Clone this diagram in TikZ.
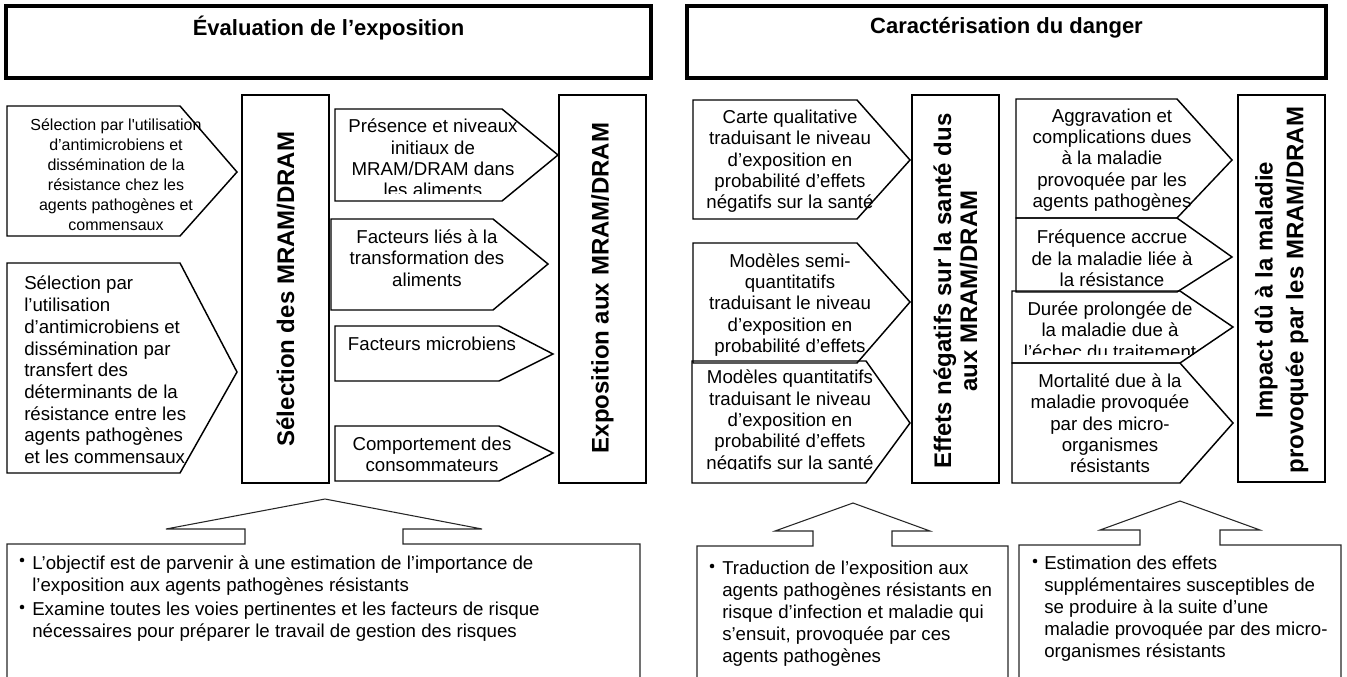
\documentclass[tikz,border=0pt]{standalone}
\usepackage{fontspec}
\setmainfont{Liberation Sans}
\newcommand\pent[6]{\draw[pent] (#1,#2) -- (#3,#2) -- (#4,#6) -- (#3,#5) -- (#1,#5) -- cycle;}
\begin{document}
\begin{tikzpicture}[x=0.75pt,y=-0.75pt,
  pent/.style={draw=black,line width=1.1pt,line join=miter},
  vbox/.style={draw=black,line width=1.1pt},
  ttlbox/.style={draw=black,line width=2.9pt},
  ttl/.style={font=\bfseries\fontsize{16.5}{19}\selectfont,inner sep=0},
  vtxt/.style={font=\bfseries\fontsize{18}{19}\selectfont,rotate=90,align=center,inner sep=0},
  atxt/.style={font=\fontsize{14}{16}\selectfont,align=center,inner sep=0},
  ctxt/.style={font=\fontsize{14}{16.5}\selectfont,align=left,inner sep=0,anchor=north west},
  call/.style={draw=black!85,line width=0.8pt},
  bul/.style={circle,fill=black,inner sep=0,minimum size=3.4pt}
]
\useasboundingbox (0,0) rectangle (1347,676);
\clip (0,0) rectangle (1347,676);

% ---------- titles
\draw[ttlbox] (6,6) rectangle (651,78);
\node[ttl] (t1) at (328.5,28) {Évaluation de l'exposition};
\draw[ttlbox] (687,6) rectangle (1326,78);
\node[ttl] (t2) at (1006.5,28) {Caractérisation du danger};

% ---------- left section
\begin{scope}\clip (7,106) rectangle (237,232);
\node[atxt,font=\fontsize{12}{15}\selectfont] (a1) at (116,175) {Sélection par l\textquotesingle utilisation\\d'antimicrobiens et\\dissémination de la\\résistance chez les\\agents pathogènes et\\commensaux};
\end{scope}
\pent{7}{106}{180}{237}{236}{172}

\begin{scope}\clip (7,263) rectangle (237,470);
\node[atxt,align=left,anchor=west,font=\fontsize{14}{16.3}\selectfont] (a2) at (24,370) {Sélection par\\l'utilisation\\d'antimicrobiens et\\dissémination par\\transfert des\\déterminants de la\\résistance entre les\\agents pathogènes\\et les commensaux};
\end{scope}
\pent{7}{263}{180}{237}{473}{372}

\draw[vbox] (242,95) rectangle (329,483);
\node[vtxt] (sel) at (285.5,289) {Sélection des MRAM/DRAM};

\begin{scope}\clip (335,109) rectangle (558,193);
\node[atxt] (p1) at (433,158) {Présence et niveaux\\initiaux de\\MRAM/DRAM dans\\les aliments};
\end{scope}
\pent{335}{109}{502}{558}{201}{155}

\begin{scope}\clip (331,219) rectangle (548,310);
\node[atxt] (p2) at (427,258) {Facteurs liés à la\\transformation des\\aliments};
\end{scope}
\pent{331}{219}{493}{548}{310}{264}

\node[atxt] (p3) at (432,344) {Facteurs microbiens};
\pent{335}{326}{499}{553}{381}{354}

\node[atxt] (p4) at (432,454) {Comportement des\\consommateurs};
\pent{335}{426}{499}{553}{481}{453}

\draw[vbox] (559,95) rectangle (646,483);
\node[vtxt] (exp) at (602.5,288) {Exposition aux MRAM/DRAM};

% ---------- right section
\begin{scope}\clip (693,100) rectangle (910,217);
\node[atxt] (c1) at (790,161.5) {Carte qualitative\\traduisant le niveau\\d'exposition en\\probabilité d'effets\\négatifs sur la santé};
\end{scope}
\pent{693}{100}{857}{910}{219}{160}

\begin{scope}\clip (693,243) rectangle (910,360);
\node[atxt] (c2) at (790,305) {Modèles semi-\\quantitatifs\\traduisant le niveau\\d'exposition en\\probabilité d'effets};
\end{scope}
\pent{693}{243}{857}{910}{363}{302}

\begin{scope}\clip (692,361) rectangle (910,469);
\node[atxt] (c3) at (790,421.5) {Modèles quantitatifs\\traduisant le niveau\\d'exposition en\\probabilité d'effets\\négatifs sur la santé};
\end{scope}
\pent{692}{361}{866}{910}{483}{423}

\draw[vbox] (912,95) rectangle (999,483);
\node[vtxt,font=\bfseries\fontsize{18}{19.5}\selectfont] (eff) at (955.5,291) {Effets négatifs sur la santé dus\\aux MRAM/DRAM};

\begin{scope}\clip (1016,99) rectangle (1232,218);
\node[atxt] (d1) at (1112,160) {Aggravation et\\complications dues\\à la maladie\\provoquée par les\\agents pathogènes};
\end{scope}
\pent{1016}{99}{1177}{1232}{218}{160}

\begin{scope}\clip (1016,218) rectangle (1232,292);
\node[atxt] (d2) at (1112,258.5) {Fréquence accrue\\de la maladie liée à\\la résistance};
\end{scope}
\pent{1016}{218}{1177}{1232}{292}{257}

\begin{scope}\clip (1012,291) rectangle (1233,354);
\node[atxt] (d3) at (1110,330) {Durée prolongée de\\la maladie due à\\l'échec du traitement};
\end{scope}
\pent{1012}{291}{1180}{1233}{363}{327}

\begin{scope}\clip (1012,363) rectangle (1233,483);
\node[atxt] (d4) at (1110,423.5) {Mortalité due à la\\maladie provoquée\\par des micro-\\organismes\\résistants};
\end{scope}
\pent{1012}{363}{1180}{1233}{483}{423}

\draw[vbox] (1238,95) rectangle (1325,482);
\node[vtxt,font=\bfseries\fontsize{18}{23}\selectfont] (imp) at (1281.5,290) {Impact dû à la maladie\\provoquée par les MRAM/DRAM};

% ---------- bottom callouts
\draw[call] (7,690) -- (7,544) -- (245,544) -- (245,529) -- (166,529) -- (325,499) -- (482,529) -- (403,529) -- (403,544) -- (640,544) -- (640,690);
\node[bul] (bl1) at (22,560) {};
\node[ctxt] (bt1) at (32,555) {L'objectif est de parvenir à une estimation de l'importance de\\l'exposition aux agents pathogènes résistants};
\node[bul] (bl2) at (22,607) {};
\node[ctxt] (bt2) at (32,602) {Examine toutes les voies pertinentes et les facteurs de risque\\nécessaires pour préparer le travail de gestion des risques};

\draw[call] (697,690) -- (697,546) -- (813,546) -- (813,531) -- (775,531) -- (853,503) -- (930,531) -- (892,531) -- (892,546) -- (1008,546) -- (1008,690);
\node[bul] (bl3) at (712,566) {};
\node[ctxt] (bt3) at (722,561) {Traduction de l'exposition aux\\agents pathogènes résistants en\\risque d'infection et maladie qui\\s'ensuit, provoquée par ces\\agents pathogènes};

\draw[call] (1019,690) -- (1019,545) -- (1140,545) -- (1140,530) -- (1100,530) -- (1180,501) -- (1260,530) -- (1220,530) -- (1220,545) -- (1341,545) -- (1341,690);
\node[bul] (bl4) at (1035,561) {};
\node[ctxt] (bt4) at (1044,556) {Estimation des effets\\supplémentaires susceptibles de\\se produire à la suite d'une\\maladie provoquée par des micro-\\organismes résistants};
\end{tikzpicture}
\end{document}
